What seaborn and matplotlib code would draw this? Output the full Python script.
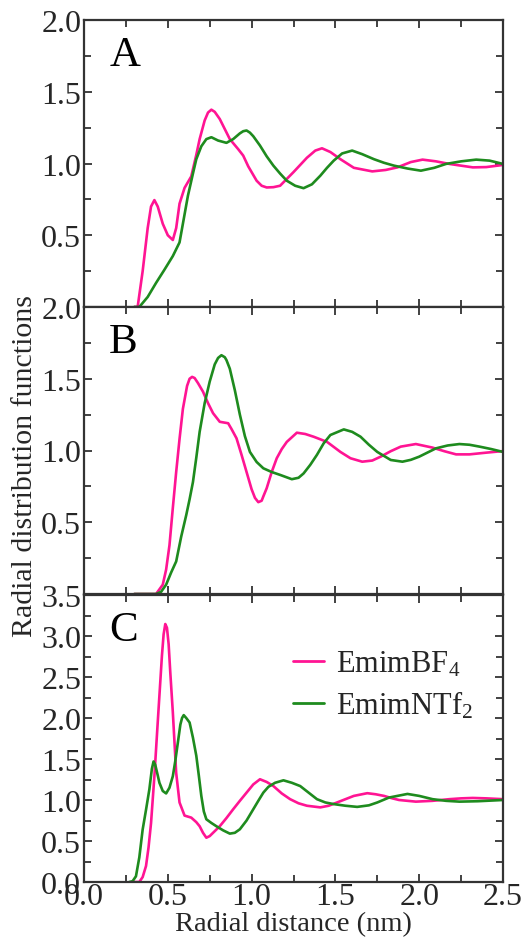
import matplotlib
matplotlib.use("Agg")
import matplotlib.pyplot as plt
import seaborn as sns
import numpy as np
from matplotlib.ticker import MultipleLocator, FuncFormatter

# ---------------- data ----------------
series_names = ["EmimBF$_4$", "EmimNTf$_2$"]
panel_labels = ["A", "B", "C"]
panel_ymax = [2.0, 2.0, 3.5]

a_bf4_x = [0.30, 0.32, 0.35, 0.38, 0.40, 0.42, 0.44, 0.47, 0.50, 0.53, 0.55, 0.57, 0.60, 0.64, 0.67,
           0.69, 0.72, 0.74, 0.76, 0.78, 0.81, 0.84, 0.87, 0.92, 0.95, 0.98, 1.03, 1.06, 1.09, 1.13, 1.17,
           1.25, 1.33, 1.38, 1.42, 1.47, 1.53, 1.61, 1.72, 1.80, 1.87, 1.95, 2.02, 2.10, 2.18, 2.25,
           2.32, 2.40, 2.50]
a_bf4_y = [0.00, 0.00, 0.25, 0.55, 0.70, 0.745, 0.70, 0.58, 0.50, 0.467, 0.55, 0.72, 0.83, 0.91, 1.06,
           1.17, 1.30, 1.355, 1.375, 1.36, 1.31, 1.24, 1.17, 1.10, 1.055, 0.98, 0.88, 0.845, 0.833, 0.835, 0.845,
           0.94, 1.04, 1.09, 1.106, 1.08, 1.03, 0.97, 0.945, 0.955, 0.973, 1.01, 1.027, 1.015, 0.997, 0.985,
           0.973, 0.975, 0.99]
a_ntf2_x = [0.30, 0.33, 0.38, 0.43, 0.48, 0.53, 0.57, 0.59, 0.62, 0.65, 0.67, 0.70, 0.73, 0.76, 0.80,
            0.85, 0.89, 0.93, 0.95, 0.97, 0.99, 1.01, 1.05, 1.09, 1.13, 1.17, 1.21, 1.26, 1.31, 1.36,
            1.41, 1.45, 1.49, 1.54, 1.60, 1.66, 1.73, 1.79, 1.85, 1.93, 2.01, 2.09, 2.16, 2.25, 2.34,
            2.42, 2.50]
a_ntf2_y = [0.00, 0.00, 0.07, 0.168, 0.26, 0.355, 0.45, 0.58, 0.775, 0.93, 1.03, 1.12, 1.17, 1.183, 1.16,
            1.144, 1.17, 1.21, 1.225, 1.23, 1.215, 1.19, 1.125, 1.05, 0.985, 0.93, 0.88, 0.845, 0.828, 0.855,
            0.915, 0.97, 1.02, 1.07, 1.09, 1.065, 1.03, 1.005, 0.985, 0.965, 0.95, 0.97, 0.997, 1.015, 1.027,
            1.02, 0.997]

b_bf4_x = [0.30, 0.43, 0.47, 0.49, 0.51, 0.53, 0.55, 0.57, 0.59, 0.615, 0.63, 0.645, 0.66, 0.68, 0.71,
           0.74, 0.77, 0.81, 0.86, 0.88, 0.91, 0.94, 0.97, 1.00, 1.02, 1.04, 1.06, 1.07, 1.09, 1.12,
           1.15, 1.18, 1.21, 1.27, 1.32, 1.37, 1.45, 1.53, 1.59, 1.66, 1.72, 1.77, 1.83, 1.89, 1.98,
           2.08, 2.15, 2.22, 2.30, 2.40, 2.50]
b_bf4_y = [0.0, 0.0, 0.065, 0.17, 0.34, 0.60, 0.85, 1.08, 1.29, 1.45, 1.50, 1.513, 1.505, 1.47, 1.41,
           1.33, 1.26, 1.20, 1.19, 1.15, 1.085, 0.97, 0.85, 0.73, 0.67, 0.64, 0.65, 0.68, 0.737, 0.85,
           0.946, 1.01, 1.06, 1.124, 1.115, 1.096, 1.06, 0.99, 0.946, 0.922, 0.93, 0.957, 0.995, 1.027, 1.045,
           1.02, 0.995, 0.973, 0.973, 0.985, 0.996]
b_ntf2_x = [0.30, 0.43, 0.46, 0.49, 0.52, 0.55, 0.58, 0.61, 0.63, 0.65, 0.67, 0.69, 0.72, 0.75, 0.78,
            0.80, 0.82, 0.84, 0.85, 0.87, 0.90, 0.93, 0.96, 0.99, 1.03, 1.07, 1.12, 1.17, 1.24, 1.28,
            1.31, 1.35, 1.39, 1.43, 1.47, 1.55, 1.60, 1.65, 1.70, 1.75, 1.83, 1.90, 1.95, 2.00, 2.10,
            2.17, 2.24, 2.30, 2.36, 2.43, 2.50]
b_ntf2_y = [0.0, 0.0, 0.015, 0.065, 0.15, 0.227, 0.40, 0.55, 0.66, 0.78, 0.95, 1.13, 1.33, 1.48, 1.60,
            1.645, 1.664, 1.65, 1.63, 1.57, 1.42, 1.25, 1.10, 0.99, 0.92, 0.876, 0.85, 0.83, 0.80, 0.81,
            0.84, 0.90, 0.97, 1.05, 1.108, 1.147, 1.13, 1.096, 1.04, 0.99, 0.934, 0.922, 0.935, 0.957, 1.015,
            1.035, 1.045, 1.04, 1.027, 1.01, 0.99]

c_bf4_x = [0.30, 0.33, 0.35, 0.37, 0.385, 0.40, 0.42, 0.44, 0.465, 0.475, 0.485, 0.495, 0.505, 0.515,
           0.53, 0.55, 0.57, 0.60, 0.64, 0.67, 0.69, 0.71, 0.73, 0.75, 0.77, 0.81, 0.85, 0.89, 0.93, 0.97,
           1.01, 1.05, 1.09, 1.13, 1.18, 1.23, 1.28, 1.33, 1.41, 1.46, 1.51, 1.56, 1.61, 1.69, 1.74,
           1.79, 1.84, 1.88, 1.98, 2.08, 2.18, 2.25, 2.32, 2.40, 2.50]
c_bf4_y = [0.0, 0.0, 0.06, 0.195, 0.42, 0.72, 1.29, 1.95, 2.76, 3.02, 3.146, 3.10, 2.90, 2.55,
           2.07, 1.33, 0.97, 0.81, 0.785, 0.73, 0.68, 0.60, 0.54, 0.56, 0.60, 0.68, 0.78, 0.887, 0.99, 1.09,
           1.19, 1.253, 1.22, 1.17, 1.08, 1.01, 0.96, 0.93, 0.91, 0.93, 0.97, 1.01, 1.05, 1.083, 1.07,
           1.05, 1.02, 1.00, 0.98, 0.99, 1.01, 1.02, 1.025, 1.02, 1.01]
c_ntf2_x = [0.27, 0.29, 0.31, 0.33, 0.35, 0.37, 0.39, 0.405, 0.415, 0.425, 0.44, 0.45, 0.47, 0.49, 0.51,
            0.53, 0.545, 0.56, 0.575, 0.585, 0.595, 0.61, 0.63, 0.65, 0.67, 0.685, 0.70, 0.715, 0.73,
            0.76, 0.79, 0.83, 0.87, 0.90, 0.93, 0.97, 1.01, 1.04, 1.07, 1.10, 1.14, 1.19, 1.24, 1.29,
            1.34, 1.39, 1.44, 1.49, 1.56, 1.63, 1.70, 1.75, 1.82, 1.93, 2.00, 2.08, 2.16, 2.24, 2.35, 2.50]
c_ntf2_y = [0.0, 0.01, 0.07, 0.30, 0.64, 0.88, 1.13, 1.38, 1.47, 1.43, 1.30, 1.21, 1.11, 1.08, 1.15,
            1.29, 1.48, 1.70, 1.92, 2.00, 2.035, 2.0, 1.945, 1.76, 1.54, 1.30, 1.05, 0.86, 0.765,
            0.72, 0.68, 0.63, 0.59, 0.60, 0.643, 0.75, 0.887, 0.99, 1.09, 1.16, 1.21, 1.24, 1.21, 1.17,
            1.09, 1.01, 0.97, 0.95, 0.93, 0.916, 0.935, 0.97, 1.03, 1.074, 1.05, 1.01, 0.99, 0.98, 0.985, 1.0]

panels = [
    ((a_bf4_x, a_bf4_y), (a_ntf2_x, a_ntf2_y)),
    ((b_bf4_x, b_bf4_y), (b_ntf2_x, b_ntf2_y)),
    ((c_bf4_x, c_bf4_y), (c_ntf2_x, c_ntf2_y)),
]

# ---------------- style ----------------
sns.set_theme(style="ticks")
plt.rcParams['font.family'] = ['Liberation Serif', 'DejaVu Serif']
plt.rcParams['mathtext.fontset'] = 'custom'
plt.rcParams['mathtext.rm'] = 'Liberation Serif'
plt.rcParams['mathtext.it'] = 'Liberation Serif'

colors = ["#FF1493", "#1E8B1E"]
W, H = 522, 945
fig = plt.figure(figsize=(W / 100, H / 100), dpi=100)

left = 84 / W
right = 503 / W
tops = [21, 308, 596]
ph = 287

axes = []
for i in range(3):
    ax = fig.add_axes([left, 1 - (tops[i] + ph) / H, right - left, ph / H])
    axes.append(ax)
    (x1, y1), (x2, y2) = panels[i]
    sns.lineplot(x=x1, y=y1, ax=ax, color=colors[0], lw=1.9, sort=False,
                 estimator=None, label=series_names[0])
    sns.lineplot(x=x2, y=y2, ax=ax, color=colors[1], lw=1.9, sort=False,
                 estimator=None, label=series_names[1])
    ax.set_xlim(0, 2.5)
    ax.set_ylim(0, panel_ymax[i])
    ax.xaxis.set_major_locator(MultipleLocator(0.5))
    ax.xaxis.set_minor_locator(MultipleLocator(0.25))
    ax.yaxis.set_major_locator(MultipleLocator(0.5))
    ax.yaxis.set_minor_locator(MultipleLocator(0.25))
    ax.tick_params(which='both', direction='in', top=True, right=True,
                   labelsize=23, pad=2, color='#333333', width=1.3)
    ax.tick_params(axis='x', pad=0)
    ax.tick_params(which='major', length=6)
    ax.tick_params(which='minor', length=5)
    for s in ax.spines.values():
        s.set_linewidth(1.6)
        s.set_color('#333333')
    if i < 2:
        ax.yaxis.set_major_formatter(FuncFormatter(lambda v, p: "" if abs(v) < 1e-9 else f"{v:.1f}"))
        ax.tick_params(axis='x', labelbottom=False)
    else:
        ax.yaxis.set_major_formatter(FuncFormatter(lambda v, p: f"{v:.1f}"))
        ax.xaxis.set_major_formatter(FuncFormatter(lambda v, p: f"{v:.1f}"))
    ax.set_xlabel("")
    ax.set_ylabel("")
    ax.text(0.06, 0.945, panel_labels[i], transform=ax.transAxes, fontsize=31,
            ha='left', va='top', color='black')
    if i < 2:
        ax.get_legend().remove()
    else:
        leg = ax.legend(loc='upper left', bbox_to_anchor=(0.47, 0.855), frameon=False,
                        fontsize=22, handlelength=1.0, handletextpad=0.4, labelspacing=0.35,
                        borderaxespad=0)
        for line in leg.get_lines():
            line.set_linewidth(2.0)

axes[2].set_xlabel("Radial distance (nm)", fontsize=20.5, labelpad=0)
fig.text(25 / W, 1 - 466 / H, "Radial distribution functions", rotation=90,
         fontsize=21.5, ha='center', va='center')

fig.savefig("out.png", dpi=100)
